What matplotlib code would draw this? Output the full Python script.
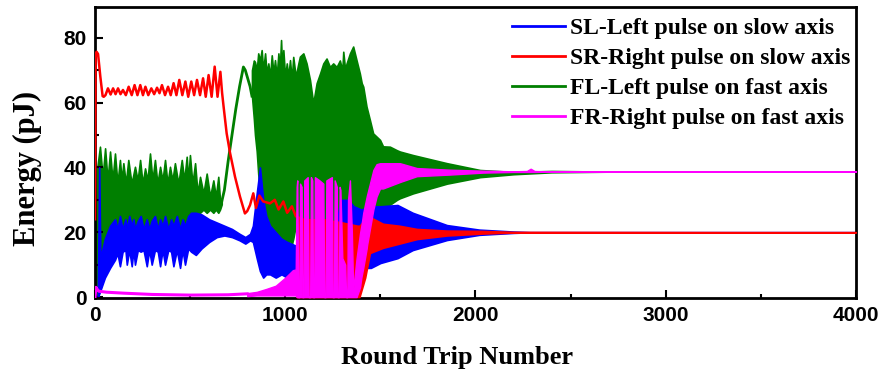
import numpy as np
import matplotlib
matplotlib.use("Agg")
import matplotlib.pyplot as plt
from matplotlib.ticker import MultipleLocator

# ---- data (round trip number, energy in pJ) ----
# SL - blue, envelope of the fast oscillation (lower, upper)
sl_x = [15, 22, 28, 40, 52, 79, 105, 118, 131, 145, 160, 167, 180, 193, 202, 210, 225, 240, 255, 272,
        285, 298, 315, 330, 342, 355, 368, 385, 400, 412, 430, 447, 460, 473, 490, 505, 530, 560, 600,
        640, 680, 720, 760, 790, 815, 830, 850, 867, 884, 900, 920, 950, 980, 1010, 1050, 1100, 1180,
        1250, 1290, 1330, 1360, 1400, 1450, 1500, 1590, 1670, 1850, 2020, 2200, 2300, 4000]
sl_lo = [0, 1, 2, 4, 6, 9, 11.5, 13.5, 9.5, 14, 14.5, 10, 14.5, 9.5, 14.5, 10, 14.5, 14, 14.5, 9.5,
         14.5, 10, 14.5, 14, 9.5, 14.5, 10, 14.5, 14, 9.5, 14.5, 9, 14.5, 10, 15, 14, 13, 15, 17,
         18.5, 19, 18.5, 17.5, 16.5, 17.5, 17, 12, 8, 6, 7, 7, 6, 7, 6, 5, 4, 5,
         5, 8, 9, 12, 9, 9, 10.5, 12, 14.5, 17.6, 19.2, 19.8, 20, 20]
sl_hi = [2, 40, 12, 15, 18, 22, 24, 21, 25, 21, 24, 21, 25, 22, 24, 21, 23.5, 25, 21, 24,
         21, 23.5, 25, 21, 24, 22, 25, 21, 24, 22, 25, 21, 24, 22, 25, 26, 26, 25.5, 24,
         23, 22, 21, 19.5, 18.5, 19.5, 22, 32, 40, 30, 25, 22, 20, 18, 17, 16, 15, 15,
         15, 30, 30, 28, 27, 28, 28, 28.4, 26, 22.2, 20.8, 20.2, 20, 20]

# SR - red, slow part as a single line
sr_line_x = [0, 3, 8, 16, 28, 40, 46, 55, 68, 82, 95, 108, 121, 134, 147, 162, 177, 193, 208, 223,
             238, 252, 265, 280, 296, 311, 326, 339, 352, 368, 384, 398, 413, 428, 443, 459, 475, 490,
             506, 521, 536, 552, 568, 582, 597, 613, 629, 644, 659, 668, 676, 692, 710, 736, 762, 788,
             800, 815, 832, 846, 864, 884, 920, 945, 965, 990, 1010, 1035, 1055]
sr_line_y = [24, 74, 75.7, 75, 68, 62, 61.8, 62.3, 64.4, 62.5, 64.4, 62.6, 64.4, 62.6, 63.9, 62.3, 64.9,
             62.3, 65.4, 62.3, 65.4, 62.3, 64.9, 62.3, 64.4, 62.6, 64.6, 62.9, 65.4, 62.3, 64.9, 62.3,
             66.0, 62.3, 67.0, 62.3, 66.5, 61.8, 66.5, 62.3, 67.0, 62.3, 67.5, 61.8, 68.5, 61.8, 71.1,
             61.8, 69.5, 63, 58.7, 50.5, 44.4, 37.1, 31, 25.8, 26.5, 28.4, 32, 27.5, 31.3, 29.5, 28.9,
             30, 27, 29.5, 26, 28, 25]
sr_x = [1060, 1100, 1200, 1300, 1380, 1390, 1420, 1445, 1514, 1600, 1692, 1850, 2040, 2200, 4000]
sr_lo = [0, 0, 0, 0, 0, 0, 6, 13.6, 15.2, 16.5, 17.9, 19, 19.6, 19.9, 20]
sr_hi = [25, 24, 24, 23, 22, 22, 24, 24.7, 22.6, 22, 21, 20.5, 20.4, 20.1, 20]

# FL - green
fl_x = [0, 5, 12, 26, 40, 53, 66, 79, 92, 105, 118, 131, 140, 149, 162, 175, 192, 210, 224, 237,
        250, 263, 276, 289, 302, 315, 328, 342, 355, 368, 381, 394, 407, 420, 438, 456, 469, 482,
        490, 499, 512, 526, 539, 552, 570, 587, 605, 622, 635, 648, 657, 666]
fl_lo = [0, 0, 1, 2, 5, 8, 10, 12, 14, 15, 16, 16, 16, 16, 16, 16, 16, 16, 16, 16,
         16, 16, 16, 16, 16, 16, 16, 16, 16, 16, 16, 16, 16, 16, 16, 16, 16, 16,
         16, 16, 20, 24, 26, 26, 27, 26, 27, 26, 27, 26, 27, 28.6]
fl_hi = [0, 20, 40, 46.4, 37, 45.9, 36, 44.9, 36, 44.3, 35, 42.3, 36, 41.3, 35, 42.3, 35, 40.2, 36,
         42.3, 35, 39.7, 36, 44.3, 36, 42.3, 35, 40.2, 36, 42.3, 35, 40.2, 36, 41.3, 35, 42.3, 36,
         43.3, 36, 43.8, 35, 41.3, 32, 37.1, 32, 38.1, 31, 36, 31, 37.1, 30, 30]
fl_line_x = [666, 680, 700, 720, 740, 760, 780, 790, 800, 815, 825]
fl_line_y = [29.4, 33, 42, 50, 58, 65, 71, 70, 68, 65, 62]
fl2_x = [825, 835, 841, 850, 858, 867, 876, 884, 894, 902, 911, 920, 929, 938, 946, 955, 964, 971,
         978, 984, 990, 999, 1008, 1016, 1025, 1034, 1042, 1055, 1069, 1077, 1095, 1112, 1130, 1147,
         1165, 1183, 1200, 1217, 1235, 1252, 1270, 1287, 1300, 1305, 1315, 1322, 1340, 1357, 1375,
         1392, 1402, 1410, 1427, 1445, 1462, 1480, 1498, 1514, 1550, 1587, 1603, 1672, 1850, 2024,
         2200, 2400, 2700, 4000]
fl2_lo = [62, 55, 50, 45, 38, 32, 26, 22, 20, 19, 17, 16, 18, 15, 17, 16, 18, 15, 17, 16, 18, 15,
          17, 16, 18, 16, 18, 22, 24, 22, 24, 22, 24, 22, 24, 22, 24, 22, 24, 22, 22, 20, 15, 15.5,
          16, 18, 22, 24, 24, 24, 23.8, 24, 24.5, 25, 25.5, 25.9, 25.9, 26.9, 28.5, 30, 30.5, 32, 35,
          37, 37.9, 38.5, 38.7, 38.7]
fl2_hi = [70, 73, 72.5, 70, 75.2, 73, 76.2, 70, 75.2, 69, 72.1, 68, 74.6, 69, 73.1, 68, 75.2, 70,
          79.3, 70, 76.2, 68, 72.1, 68, 73.1, 67, 74.1, 68, 72.1, 74.2, 75.2, 72.1, 67, 59.8, 66,
          69, 72.1, 73.6, 71, 72.1, 71, 73, 70, 75.7, 70, 72, 75.2, 77.3, 73, 69, 66, 64.9, 58.8,
          54.6, 50.5, 49.5, 48.5, 46.5, 46.4, 45.3, 44.9, 43.8, 41.3, 39.2, 38.6, 38.9, 38.7, 38.7]

# FR - magenta
fr_line_x = [0, 5, 10, 20, 60, 150, 300, 500, 700, 800]
fr_line_y = [0, 3, 2.5, 1.8, 1.5, 1.2, 0.8, 0.6, 0.7, 1.0]
fr_x = [800, 850, 900, 950, 1000, 1040, 1055, 1060, 1063, 1068, 1074, 1078, 1086, 1090, 1096, 1100,
        1118, 1123, 1131, 1135, 1142, 1146, 1152, 1156, 1180, 1200, 1205, 1212, 1216, 1245, 1249,
        1256, 1260, 1271, 1275, 1282, 1286, 1290, 1300, 1315, 1320, 1326, 1330, 1340, 1350, 1357,
        1375, 1393, 1400, 1410, 1428, 1430, 1460, 1463, 1480, 1498, 1514, 1603, 1692, 1866, 2040,
        2200, 2270, 2290, 2310, 2400, 4000]
fr_lo = [0.3, 0.5, 0.5, 0.5, 0.5, 0.5, 0.5, 0, 0, 0, 0, 0, 0, 0, 0, 0, 0, 0, 0, 0, 0, 0, 0, 0, 0,
         0, 0, 0, 0, 0, 0, 0, 0, 0, 0, 0, 0, 0, 0, 0, 0, 0, 0, 0, 0, 0, 0, 3, 6, 9, 15, 16, 26, 27,
         31, 33.5, 33.5, 35.5, 37.3, 37.8, 38.4, 38.6, 38.6, 38.6, 38.6, 38.7, 38.7]
fr_hi = [1.2, 1.6, 2.5, 3.5, 6, 8.3, 8.5, 34, 36, 0, 0, 35, 34, 0, 0, 36, 37, 0, 0, 37, 36, 0, 0, 37,
         36, 35, 0, 0, 36, 37, 0, 0, 36, 34, 0, 0, 34, 33, 12, 10, 0, 0, 30, 36, 20, 2, 12, 19.7, 22,
         26, 31, 31.5, 38.5, 39.2, 41, 41.3, 41.3, 41.3, 39.8, 39.3, 39.0, 38.8, 38.9, 39.6, 38.9,
         38.7, 38.7]

labels = ["SL-Left pulse on slow axis", "SR-Right pulse on slow axis",
          "FL-Left pulse on fast axis", "FR-Right pulse on fast axis"]
c_sl, c_sr, c_fl, c_fr = "#0000ff", "#ff0000", "#007f00", "#ff00ff"

serif = ["Liberation Serif", "DejaVu Serif"]

fig = plt.figure(figsize=(8.83, 3.77), dpi=100)
ax = fig.add_axes([0.1076, 0.2095, 0.8618, 0.7719])

# green first, blue on top of it, then red, then magenta
ax.fill_between(fl_x, fl_lo, fl_hi, color=c_fl, lw=1.2, zorder=1)
ax.plot(fl_line_x, fl_line_y, color=c_fl, lw=2, zorder=1)
ax.fill_between(fl2_x, fl2_lo, fl2_hi, color=c_fl, lw=1.2, zorder=1)

ax.fill_between(sl_x, sl_lo, sl_hi, color=c_sl, lw=1.2, zorder=2)

ax.plot(sr_line_x, sr_line_y, color=c_sr, lw=1.8, zorder=3)
ax.fill_between(sr_x, sr_lo, sr_hi, color=c_sr, lw=1.2, zorder=3)

ax.plot(fr_line_x, fr_line_y, color=c_fr, lw=2.2, zorder=4)
ax.fill_between(fr_x, fr_lo, fr_hi, color=c_fr, lw=1.0, zorder=4)

# legend proxies
for lab, c in zip(labels, [c_sl, c_sr, c_fl, c_fr]):
    ax.plot([], [], color=c, lw=2, label=lab)
leg = ax.legend(loc="upper right", bbox_to_anchor=(1.005, 0.997), frameon=False,
                handlelength=2.25, handletextpad=0.21, labelspacing=0.36, borderaxespad=0,
                prop={"family": serif, "weight": "bold", "size": 17})

ax.set_xlim(0, 4000)
ax.set_ylim(-0.3, 89.5)
ax.xaxis.set_major_locator(MultipleLocator(1000))
ax.xaxis.set_minor_locator(MultipleLocator(500))
ax.yaxis.set_major_locator(MultipleLocator(20))
ax.yaxis.set_minor_locator(MultipleLocator(10))
ax.tick_params(which="both", direction="in", top=False, right=False, width=1.5)
ax.tick_params(which="major", length=6, labelsize=15, pad=6)
ax.tick_params(which="minor", length=3)
for lab in ax.get_xticklabels() + ax.get_yticklabels():
    lab.set_family(["Liberation Sans", "DejaVu Sans"])
    lab.set_weight("bold")
for s in ax.spines.values():
    s.set_linewidth(2)

ax.set_xlabel("Round Trip Number", family=serif, weight="bold", size=19)
ax.set_ylabel("Energy (pJ)", family=serif, weight="bold", size=22)
ax.xaxis.set_label_coords(0.476, -0.165)
ax.yaxis.set_label_coords(-0.07, 0.447)

fig.savefig("out.png", dpi=100)
